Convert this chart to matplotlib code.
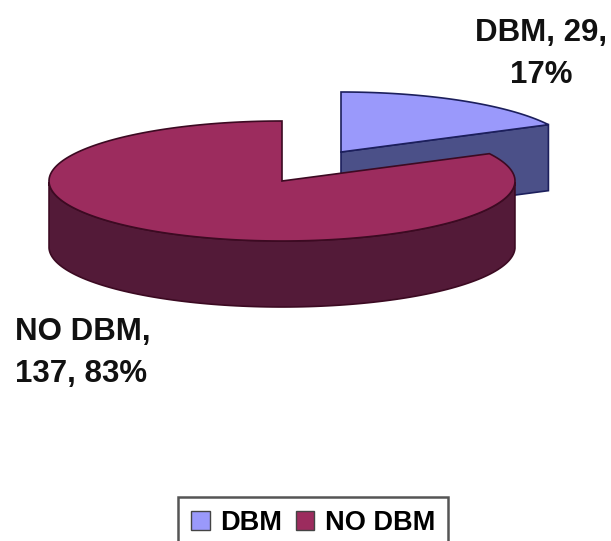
import matplotlib
matplotlib.use('Agg')
import matplotlib.pyplot as plt
import matplotlib.patches as patches
import numpy as np

labels = ['DBM', 'NO DBM']
values = [29, 137]
percents = [17, 83]

top_colors = ['#9a99fb', '#9c2c5e']
side_colors = ['#4b5088', '#531a38']
edge_colors = ['#1c1f5c', '#3c0a22']

# 椭圆参数 (像素坐标)
rx, ry = 233, 60
depth = 66
centers = [(341, 152), (282, 181)]

plt.rcParams['font.family'] = ['Liberation Sans', 'DejaVu Sans']

fig = plt.figure(figsize=(6.11, 5.41), dpi=100)
ax = fig.add_axes([0, 0, 1, 1])
ax.set_xlim(0, 611)
ax.set_ylim(541, 0)
ax.axis('off')

# 角度从正上方顺时针计算
fracs = np.array(values) / sum(values)
edges = np.concatenate([[0], np.cumsum(fracs)]) * 2 * np.pi


def arc(center, a0, a1):
    t = np.linspace(a0, a1, 200)
    return center[0] + rx * np.sin(t), center[1] - ry * np.cos(t)


def add_poly(xs, ys, face, edge):
    ax.add_patch(patches.Polygon(np.column_stack([xs, ys]), closed=True,
                                 facecolor=face, edgecolor=edge, linewidth=1.2))


# DBM 扇区
cx, cy = centers[0]
x, y = arc(centers[0], edges[0], edges[1])
# 切面
add_poly([cx, x[-1], x[-1], cx], [cy, y[-1], y[-1] + depth, cy + depth],
         side_colors[0], edge_colors[0])
add_poly(np.r_[cx, x], np.r_[cy, y], top_colors[0], edge_colors[0])

# NO DBM 扇区
cx, cy = centers[1]
x, y = arc(centers[1], edges[1], edges[2])
# 只画椭圆前半部分的侧面
front = np.cos(np.linspace(edges[1], edges[2], 200)) <= 0
fx, fy = x[front], y[front]
add_poly(np.r_[fx, fx[::-1]], np.r_[fy, fy[::-1] + depth], side_colors[1], edge_colors[1])
add_poly(np.r_[cx, x], np.r_[cy, y], top_colors[1], edge_colors[1])

# 数据标签
ax.text(541, 54, f'{labels[0]}, {values[0]},\n{percents[0]}%', ha='center', va='center',
        fontsize=22.5, fontweight='bold', color='#111111', linespacing=1.52)
ax.text(15, 353, f'{labels[1]},\n{values[1]}, {percents[1]}%', ha='left', va='center',
        fontsize=22.5, fontweight='bold', color='#111111', linespacing=1.52)

# 图例
handles = [patches.Patch(facecolor=top_colors[i], edgecolor='#444444', label=labels[i])
           for i in range(2)]
leg = ax.legend(handles=handles, ncol=2, loc='upper left', bbox_to_anchor=(178 / 611, 1 - 497 / 541),
                borderaxespad=0, frameon=True, fancybox=False, framealpha=1, edgecolor='#555555',
                prop={'size': 19.5, 'weight': 'bold'}, handlelength=0.7, handleheight=0.7,
                handletextpad=0.37, columnspacing=0.5, borderpad=0.48)
leg.get_frame().set_linewidth(1.8)

fig.savefig('out.png', dpi=100)
